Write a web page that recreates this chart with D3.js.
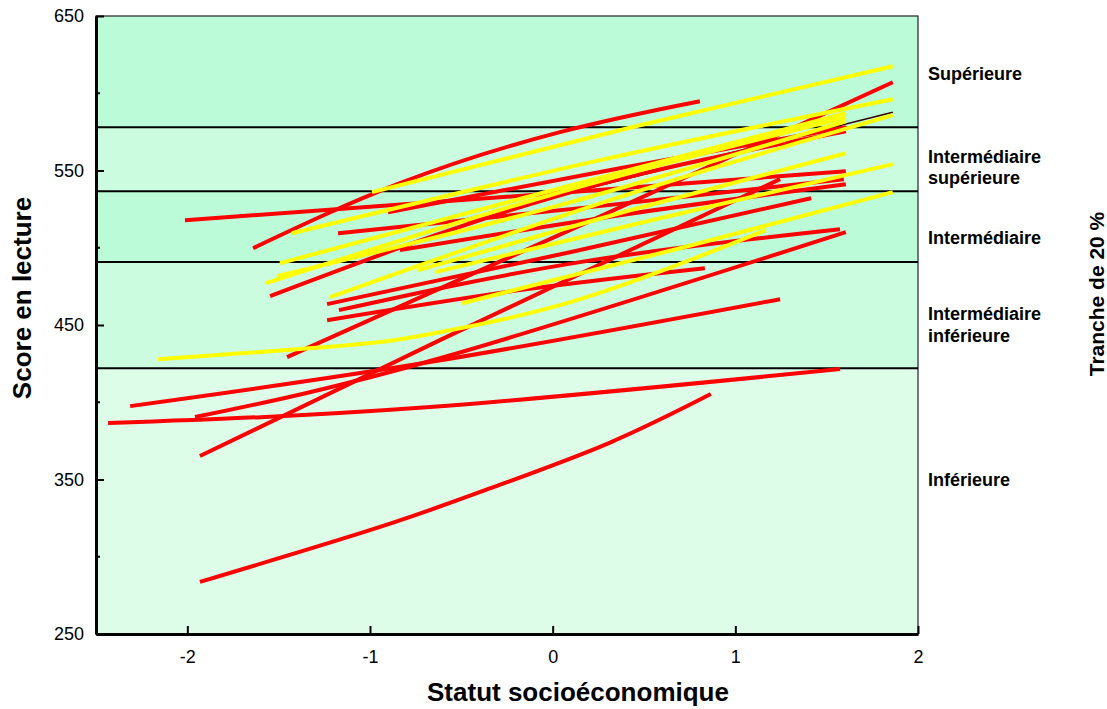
<!DOCTYPE html>
<meta charset="utf-8">
<style>
body { margin: 0; background: #fff; }
text { font-family: "Liberation Sans", Arial, sans-serif; fill: #000; }
.axis text { font-size: 18px; }
.title { font-size: 26px; font-weight: bold; }
.bandLabel { font-size: 18px; font-weight: bold; }
.sideTitle { font-size: 21px; font-weight: bold; }
.curve { fill: none; stroke-width: 4; }
</style>
<body>
<script src="https://d3js.org/d3.v7.min.js"></script>
<script>
// band limits on the score axis (bottom to top)
const bandEdges = [250, 422, 490.7, 536.6, 578, 650];
const bandNames = [["Inférieure"], ["Intermédiaire", "inférieure"], ["Intermédiaire"],
                   ["Intermédiaire", "supérieure"], ["Supérieure"]];
const xTicks = [-2, -1, 0, 1, 2];
const yTicks = [250, 350, 450, 550, 650];
const yMinor = [300, 400, 500, 600];

// [ses, score] points
const redLines = [
  [[-1.931, 283.7], [-0.945, 319.3], [-0.321, 345.2], [0.308, 373.6], [0.866, 405.3]],
  [[-2.434, 386.5], [-0.672, 396.9], [1.573, 421.5]],
  [[-2.313, 397.5], [-0.672, 426.0], [1.245, 466.7]],
  [[-1.958, 390.4], [-0.617, 428.5], [1.605, 510.1]],
  [[-1.931, 365.2], [-0.617, 440.2], [1.245, 544.4]],
  [[-1.454, 429.2], [0.204, 517.2], [1.862, 607.1]],
  [[-1.235, 463.5], [0.095, 497.1], [1.415, 532.1]],
  [[-1.235, 453.1], [-0.179, 472.6], [0.833, 486.8]],
  [[-1.170, 459.6], [0.149, 490.7], [1.573, 512.0]],
  [[-2.013, 517.8], [-0.206, 533.4], [1.605, 549.5]],
  [[-1.640, 499.7], [-0.836, 541.8], [0.040, 574.8], [0.806, 594.8]],
  [[-1.547, 468.7], [0.040, 534.0], [1.605, 575.4]],
  [[-1.175, 509.4], [0.204, 526.3], [1.594, 544.4]],
  [[-0.901, 523.0], [0.368, 551.5], [1.605, 578.0]],
  [[-0.836, 498.5], [0.368, 521.1], [1.605, 541.1]]
];
const yellowLines = [
  [[-2.160, 427.9], [-1.110, 437.0], [-0.617, 445.4], [0.133, 466.1], [1.167, 511.4]],
  [[-1.569, 477.1], [-0.015, 534.0], [1.605, 584.5]],
  [[-1.509, 481.6], [0.040, 527.6], [1.605, 581.9]],
  [[-1.493, 490.0], [0.040, 538.5], [1.605, 587.1]],
  [[-1.427, 509.4], [0.259, 556.7], [1.862, 596.1]],
  [[-1.219, 468.0], [0.314, 530.8], [1.862, 585.8]],
  [[-0.989, 536.0], [0.478, 579.3], [1.862, 617.5]],
  [[-0.737, 485.5], [0.423, 524.3], [1.605, 561.2]],
  [[-0.644, 484.2], [0.587, 519.1], [1.862, 554.1]],
  [[-0.496, 464.1], [0.697, 499.7], [1.862, 536.0]]
];
const averageLine = [[-0.56, 516.2], [1.862, 587.7]];

const bandColors = ["#ddfde9", "#ccfce0", "#bbfbd7", "#ccfce0", "#bbfbd7"];
const labelY = [485.5, [319.5, 341.5], 243.5, [162.5, 183.5], 79.5];

const svg = d3.select("body").append("svg")
    .attr("width", 1107)
    .attr("height", 709);

const x = d3.scaleLinear().domain([-2.5, 2]).range([96, 918]);
const y = d3.scaleLinear().domain([250, 650]).range([634, 16]);

// background bands
svg.append("g").selectAll("rect")
  .data(d3.pairs(bandEdges))
  .join("rect")
    .attr("x", x(-2.5))
    .attr("width", x(2) - x(-2.5))
    .attr("y", d => y(d[1]))
    .attr("height", d => y(d[0]) - y(d[1]))
    .attr("fill", (d, i) => bandColors[i]);

svg.append("rect")
    .attr("x", x(-2.5)).attr("y", y(650))
    .attr("width", x(2) - x(-2.5)).attr("height", y(250) - y(650))
    .attr("fill", "none").attr("stroke", "#222").attr("stroke-width", 1.2);

svg.append("g").selectAll("line")
  .data(bandEdges.slice(1, -1))
  .join("line")
    .attr("x1", x(-2.5)).attr("x2", x(2))
    .attr("y1", d => y(d)).attr("y2", d => y(d))
    .attr("stroke", "#000").attr("stroke-width", 2);

const line = d3.line()
    .x(d => x(d[0]))
    .y(d => y(d[1]))
    .curve(d3.curveNatural);

svg.append("path")
    .attr("d", line(averageLine))
    .attr("fill", "none")
    .attr("stroke", "#300")
    .attr("stroke-width", 1.5);

svg.append("g").selectAll("path")
  .data(redLines)
  .join("path")
    .attr("class", "curve")
    .attr("stroke", "#ff0000")
    .attr("d", line);

svg.append("g").selectAll("path")
  .data(yellowLines)
  .join("path")
    .attr("class", "curve")
    .attr("stroke", "#ffff00")
    .attr("d", line);

// axes, ticks pointing inside
const yAxis = svg.append("g")
    .attr("class", "axis")
    .attr("transform", `translate(${x(-2.5)},0)`)
    .call(d3.axisLeft(y).tickValues(yTicks).tickFormat(d => String(d))
      .tickSizeInner(-8).tickSizeOuter(0).tickPadding(12));
yAxis.selectAll(".tick line").attr("stroke-width", 2);
yAxis.selectAll(".tick text").attr("font-family", null).attr("font-size", null);

yAxis.selectAll(".minor")
  .data(yMinor)
  .join("line")
    .attr("class", "minor")
    .attr("x1", 0).attr("x2", 4)
    .attr("y1", d => y(d)).attr("y2", d => y(d))
    .attr("stroke", "#000").attr("stroke-width", 2);

const xAxis = svg.append("g")
    .attr("class", "axis")
    .attr("transform", `translate(0,${y(250)})`)
    .call(d3.axisBottom(x).tickValues(xTicks).tickFormat(d => String(d))
      .tickSizeInner(-8).tickSizeOuter(0).tickPadding(16));
xAxis.selectAll(".tick line").attr("stroke-width", 2);
xAxis.selectAll(".tick text").attr("font-family", null).attr("font-size", null);

svg.selectAll(".domain").attr("stroke", "#000").attr("stroke-width", 3);

// titles
svg.append("text")
    .attr("class", "title")
    .attr("text-anchor", "middle")
    .attr("transform", "translate(31,298) rotate(-90)")
    .text("Score en lecture");

svg.append("text")
    .attr("class", "title")
    .attr("text-anchor", "middle")
    .attr("x", 578).attr("y", 701)
    .text("Statut socioéconomique");

svg.append("text")
    .attr("class", "sideTitle")
    .attr("text-anchor", "middle")
    .attr("transform", "translate(1104,294) rotate(-90)")
    .text("Tranche de 20 %");

// band labels
bandNames.forEach((names, i) => {
  const ys = [].concat(labelY[i]);
  names.forEach((n, j) => {
    svg.append("text")
        .attr("class", "bandLabel")
        .attr("x", 928)
        .attr("y", ys[j])
        .text(n);
  });
});
</script>
</body>
